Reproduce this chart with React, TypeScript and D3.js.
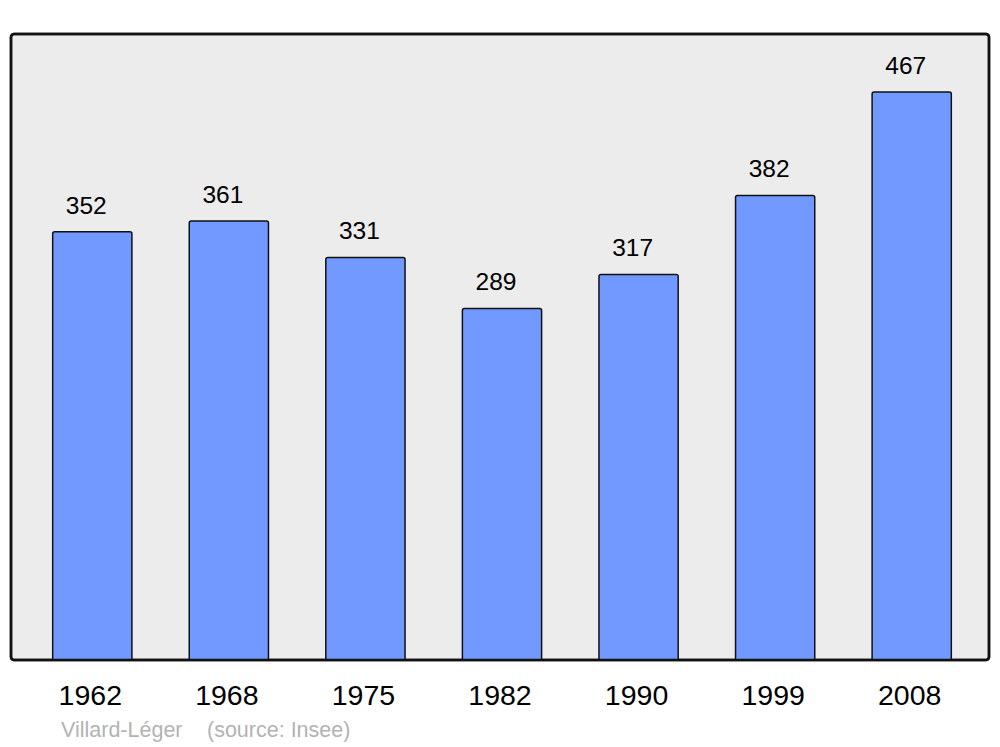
import * as d3 from 'd3'

const years = ['1962', '1968', '1975', '1982', '1990', '1999', '2008']
const population = [352, 361, 331, 289, 317, 382, 467]
const town = 'Villard-Léger'
const source = '(source: Insee)'

export default function App() {
  const width = 1000
  const height = 747
  const panel = {left: 11, top: 34, right: 989, bottom: 660}

  const x = d3.scaleBand<string>()
    .domain(years)
    .range([24, 980])
    .paddingInner(0.42)
    .paddingOuter(0.21)

  const y = d3.scaleLinear()
    .domain([0, 467])
    .range([panel.bottom, 92])

  return (
    <svg
      width={width}
      height={height}
      viewBox={`0 0 ${width} ${height}`}
      style={{position: 'absolute', left: 0, top: 0}}
      fontFamily={'Liberation Sans, Arial, sans-serif'}
    >
      <rect x={0} y={0} width={width} height={height} fill={'#fff'} />
      <rect
        x={panel.left}
        y={panel.top}
        width={panel.right - panel.left}
        height={panel.bottom - panel.top}
        rx={3}
        fill={'#ececec'}
        stroke={'#111'}
        strokeWidth={2.5}
      />
      {years.map((yr, i) => {
        const v = population[i]
        const bx = x(yr) ?? 0
        return (
          <g key={yr}>
            <path
              d={`M${bx},${panel.bottom} V${y(v) + 2} Q${bx},${y(v)} ${bx + 2},${y(v)} H${bx + x.bandwidth() - 2} Q${bx + x.bandwidth()},${y(v)} ${bx + x.bandwidth()},${y(v) + 2} V${panel.bottom}`}
              fill={'#7299ff'}
              stroke={'#111'}
              strokeWidth={1.5}
            />
            <text
              x={bx + x.bandwidth() / 2 - 6}
              y={y(v) - 18}
              textAnchor={'middle'}
              fontSize={24.5}
              fill={'#000'}
            >
              {v}
            </text>
            <text
              x={bx + x.bandwidth() / 2 - 2}
              y={705}
              textAnchor={'middle'}
              fontSize={28.5}
              fill={'#000'}
            >
              {yr}
            </text>
          </g>
        )
      })}
      <rect
        x={panel.left}
        y={panel.top}
        width={panel.right - panel.left}
        height={panel.bottom - panel.top}
        rx={3}
        fill={'none'}
        stroke={'#111'}
        strokeWidth={2.5}
      />
      <text x={61} y={737} fontSize={21.5} fill={'#b3b3b3'}>{town}</text>
      <text x={207} y={737} fontSize={21.5} fill={'#b3b3b3'}>{source}</text>
    </svg>
  )
}
